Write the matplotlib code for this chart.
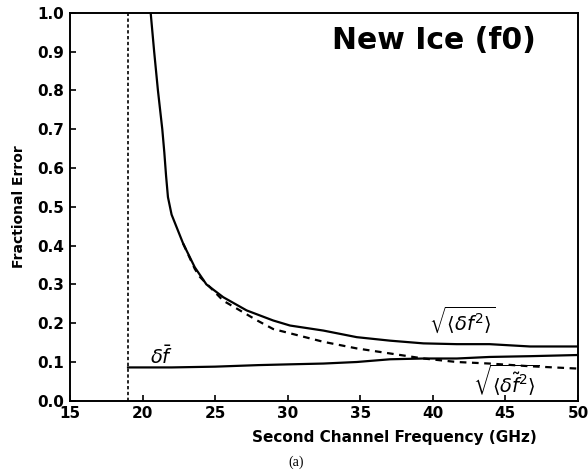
import matplotlib
matplotlib.use("Agg")
import matplotlib.pyplot as plt
import numpy as np

# Data
freq_rms = [20.56, 20.8, 21.06, 21.36, 21.5, 21.62, 21.75, 22.0, 22.8, 23.6, 24.4, 25.56,
            27.17, 29.0, 30.16, 32.46, 34.76, 37.05, 39.35, 41.65, 43.9, 46.7, 50.0]
err_rms = [1.0, 0.9, 0.8, 0.7, 0.64, 0.58, 0.525, 0.48, 0.405, 0.344, 0.30, 0.267,
           0.233, 0.207, 0.194, 0.181, 0.164, 0.155, 0.148, 0.146, 0.146, 0.140, 0.140]

freq_tilde = [22.8, 23.6, 23.96, 25.56, 27.9, 29.0, 30.16, 32.46, 34.76, 37.05,
              39.35, 41.65, 43.9, 46.7, 50.0]
err_tilde = [0.405, 0.340, 0.319, 0.258, 0.207, 0.185, 0.174, 0.152, 0.135, 0.122,
             0.109, 0.100, 0.096, 0.089, 0.083]

freq_bias = [19.0, 22.0, 25.0, 28.0, 30.16, 32.46, 34.76, 37.05, 39.35, 41.65, 43.9, 46.7, 50.0]
err_bias = [0.086, 0.086, 0.088, 0.092, 0.094, 0.096, 0.100, 0.107, 0.109, 0.109, 0.113, 0.115, 0.118]

cutoff_freq = 19.0

x_ticks = [15, 20, 25, 30, 35, 40, 45, 50]
y_ticks = [0.0, 0.1, 0.2, 0.3, 0.4, 0.5, 0.6, 0.7, 0.8, 0.9, 1.0]

fig = plt.figure(figsize=(5.88, 4.76), dpi=100)
ax = fig.add_axes([0.119, 0.158, 0.864, 0.815])

ax.plot(freq_rms, err_rms, color="black", lw=1.6, solid_joinstyle="round")
ax.plot(freq_tilde, err_tilde, color="black", lw=1.6, ls=(0, (3.0, 2.5)))
ax.plot(freq_bias, err_bias, color="black", lw=1.6)
ax.plot([cutoff_freq, cutoff_freq], [0.0, 1.0], color="black", lw=1.2, ls=(0, (2.0, 1.5)))

ax.set_xlim(15, 50)
ax.set_ylim(0.0, 1.0)
ax.set_xticks(x_ticks)
ax.set_yticks(y_ticks)
ax.set_xticklabels([str(t) for t in x_ticks], fontsize=11, fontweight="bold")
ax.set_yticklabels([f"{t:.1f}" for t in y_ticks], fontsize=11, fontweight="bold")
ax.tick_params(direction="in", length=4, width=1.2, top=False, right=False, pad=4)
for s in ax.spines.values():
    s.set_linewidth(1.4)

ax.set_xlabel("Second Channel Frequency (GHz)", fontsize=11, fontweight="bold", labelpad=3)
ax.xaxis.set_label_coords(0.638, -0.075)
ax.set_ylabel("Fractional Error", fontsize=10, fontweight="bold", labelpad=8)

ax.text(40.1, 0.93, "New Ice (f0)", fontsize=21.5, fontweight="bold", ha="center", va="center")
ax.text(21.3, 0.115, r"$\delta\bar{f}$", fontsize=14, ha="center", va="center")
ax.text(42.0, 0.207, r"$\sqrt{\langle\delta f^2\rangle}$", fontsize=14, ha="center", va="center")
ax.text(45.1, 0.052, r"$\sqrt{\langle\delta\tilde{f}^2\rangle}$", fontsize=14, ha="center", va="center")

fig.text(0.503, 0.028, "(a)", fontsize=10, family="Liberation Serif", ha="center", va="center")

fig.savefig("out.png", dpi=100)
